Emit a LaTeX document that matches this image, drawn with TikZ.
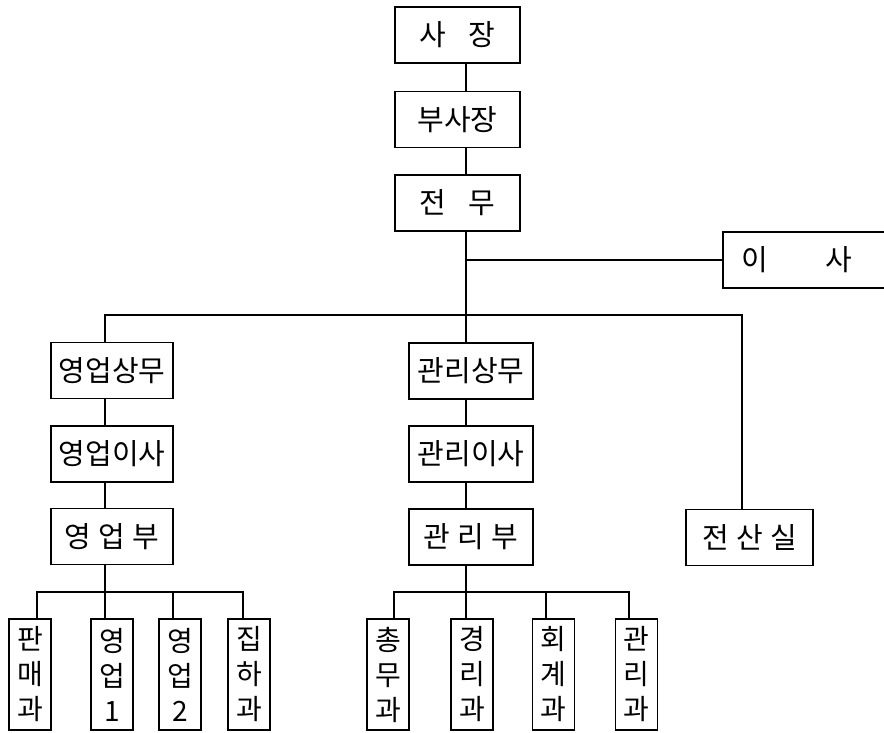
\documentclass[tikz,border=0pt]{standalone}
\usepackage{fontspec}
\newfontfamily\kr{Noto Sans CJK KR}
\begin{document}
\begin{tikzpicture}[x=1pt,y=-1pt,
  box/.style={draw,line width=1.5pt,inner sep=0pt,font=\kr\fontsize{29}{29}\selectfont},
  hbox/.style={box,minimum width=124pt,minimum height=56pt},
  vbox/.style={box,minimum width=42pt,minimum height=111pt,align=center,font=\kr\fontsize{28}{35}\selectfont},
  ln/.style={line width=1.3pt}]
\useasboundingbox (0,0) rectangle (884,732);
\fill[white] (0,0) rectangle (884,732);
% top chain
\node[hbox,minimum width=125pt] (sajang) at (457.5,35) {사\hspace{0.75em}장};
\node[hbox,minimum width=125pt] (busajang) at (457.5,119.5) {부사장};
\node[hbox,minimum width=125pt] (jeonmu) at (457.5,203) {전\hspace{0.75em}무};
\node[hbox,minimum width=180pt,anchor=west] (isa) at (722,260) {\hspace*{-1.1em}이\hspace{2em}사};
% middle columns
\node[hbox,minimum width=122pt] (ys) at (112,370.5) {영업상무};
\node[hbox,minimum width=122pt] (yi) at (112,454) {영업이사};
\node[hbox,minimum width=122pt] (yb) at (112,536.5) {영\hspace{0.25em}업\hspace{0.25em}부};
\node[hbox] (gs) at (471,371) {관리상무};
\node[hbox] (gi) at (471,454) {관리이사};
\node[hbox] (gb) at (471,537) {관\hspace{0.25em}리\hspace{0.25em}부};
\node[hbox,minimum width=127pt] (js) at (749.5,537.5) {전\hspace{0.25em}산\hspace{0.25em}실};
% bottom boxes
\node[vbox] (p1) at (30,674.5) {판\\매\\과};
\node[vbox] (p2) at (112,674.5) {영\\업\\1};
\node[vbox] (p3) at (180,674.5) {영\\업\\2};
\node[vbox] (p4) at (249,674.5) {집\\하\\과};
\node[vbox] (q1) at (388,674.5) {총\\무\\과};
\node[vbox] (q2) at (472,674.5) {경\\리\\과};
\node[vbox] (q3) at (553.5,674.5) {회\\계\\과};
\node[vbox] (q4) at (636.5,674.5) {관\\리\\과};
% spines
\coordinate (ms) at (466,0);
\coordinate (ls) at (105,0);
\coordinate (rs) at (742,0);
\coordinate (top) at (0,315);
\coordinate (bot) at (0,592);
\draw[ln] (sajang.south -| ms) -- (busajang.north -| ms);
\draw[ln] (busajang.south -| ms) -- (jeonmu.north -| ms);
\draw[ln] (jeonmu.south -| ms) -- (gs.north -| ms);
\draw[ln] (isa.west) -- (isa.west -| ms);
% main branch
\draw[ln] (ys.north -| ls) -- (top -| ls) -- (top -| rs) -- (js.north -| rs);
% left column
\draw[ln] (ys.south -| ls) -- (yi.north -| ls);
\draw[ln] (yi.south -| ls) -- (yb.north -| ls);
\draw[ln] (yb.south -| ls) -- (p2.north -| ls);
\draw[ln] ([xshift=7pt]p1.north) -- ([xshift=7pt]p1.north |- bot) -- ([xshift=-6pt]p4.north |- bot) -- ([xshift=-6pt]p4.north);
\draw[ln] ([xshift=-7pt]p3.north) -- ([xshift=-7pt]p3.north |- bot);
% middle column
\draw[ln] (gs.south -| ms) -- (gi.north -| ms);
\draw[ln] (gi.south -| ms) -- (gb.north -| ms);
\draw[ln] (gb.south -| ms) -- (q2.north -| ms);
\draw[ln] ([xshift=6pt]q1.north) -- ([xshift=6pt]q1.north |- bot) -- ([xshift=-7.5pt]q4.north |- bot) -- ([xshift=-7.5pt]q4.north);
\draw[ln] ([xshift=-7.5pt]q3.north) -- ([xshift=-7.5pt]q3.north |- bot);
\end{tikzpicture}
\end{document}
